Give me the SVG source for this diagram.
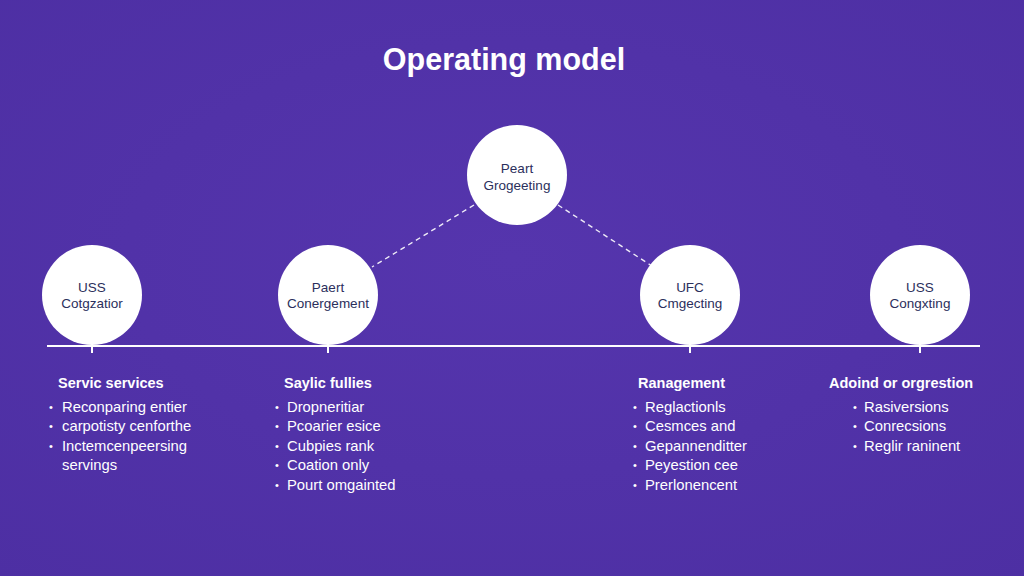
<svg xmlns="http://www.w3.org/2000/svg" width="1024" height="576" viewBox="0 0 1024 576">
<defs>
<radialGradient id="bg" cx="50%" cy="45%" r="75%">
<stop offset="0" stop-color="#5535ad"/>
<stop offset="1" stop-color="#4d2fa3"/>
</radialGradient>
</defs>
<style>
.title{font-family:"Liberation Sans",Arial,sans-serif;font-size:30.5px;font-weight:600;fill:#ffffff}
.node circle{fill:#ffffff}
.lbl{font-family:"Liberation Sans",Arial,sans-serif;font-size:13.5px;fill:#2b2f5c;text-anchor:middle}
.head{font-family:"Liberation Sans",Arial,sans-serif;font-size:14.5px;font-weight:700;fill:#ffffff}
.item{font-family:"Liberation Sans",Arial,sans-serif;font-size:14.8px;fill:#ffffff}
.bul{font-family:"Liberation Sans",Arial,sans-serif;font-size:11px;fill:#ffffff}
.dash{stroke:#ffffff;stroke-width:1.4;stroke-dasharray:5 4;fill:none;opacity:0.9}
.axis{stroke:#ffffff;stroke-width:2;fill:none}
.tick{stroke:#ffffff;stroke-width:2}
</style>
<rect width="1024" height="576" fill="url(#bg)"/>
<text class="title" x="504" y="70" text-anchor="middle">Operating model</text>
<g id="connectors">
<line class="axis" x1="47" y1="346" x2="980" y2="346"/>
<line class="tick" x1="92" y1="346" x2="92" y2="353"/>
<line class="tick" x1="328" y1="346" x2="328" y2="353"/>
<line class="tick" x1="690" y1="346" x2="690" y2="353"/>
<line class="tick" x1="920" y1="346" x2="920" y2="353"/>
<line class="dash" x1="474" y1="205" x2="372" y2="267"/>
<line class="dash" x1="558" y1="205" x2="652" y2="266"/>
</g>
<g id="node-top" class="node">
<circle cx="517" cy="175" r="50"/>
<text class="lbl" x="517" y="173">Peart</text>
<text class="lbl" x="517" y="190">Grogeeting</text>
</g>
<g id="node-1" class="node">
<circle cx="92" cy="295" r="50"/>
<text class="lbl" x="92" y="292">USS</text>
<text class="lbl" x="92" y="308">Cotgzatior</text>
</g>
<g id="node-2" class="node">
<circle cx="328" cy="295" r="50"/>
<text class="lbl" x="328" y="292">Paert</text>
<text class="lbl" x="328" y="308">Conergement</text>
</g>
<g id="node-3" class="node">
<circle cx="690" cy="295" r="50"/>
<text class="lbl" x="690" y="292">UFC</text>
<text class="lbl" x="690" y="308">Cmgecting</text>
</g>
<g id="node-4" class="node">
<circle cx="920" cy="295" r="50"/>
<text class="lbl" x="920" y="292">USS</text>
<text class="lbl" x="920" y="308">Congxting</text>
</g>
<g id="col-1">
<text class="head" x="58" y="388">Servic services</text>
<text class="bul" x="49" y="411">•</text><text class="item" x="62" y="412">Reconparing entier</text>
<text class="bul" x="49" y="430">•</text><text class="item" x="62" y="431">carpotisty cenforthe</text>
<text class="bul" x="49" y="450">•</text><text class="item" x="62" y="451">Inctemcenpeersing</text>
<text class="item" x="62" y="470">servings</text>
</g>
<g id="col-2">
<text class="head" x="284" y="388">Saylic fullies</text>
<text class="bul" x="275" y="411">•</text><text class="item" x="287" y="412">Dropneritiar</text>
<text class="bul" x="275" y="430">•</text><text class="item" x="287" y="431">Pcoarier esice</text>
<text class="bul" x="275" y="450">•</text><text class="item" x="287" y="451">Cubpies rank</text>
<text class="bul" x="275" y="469">•</text><text class="item" x="287" y="470">Coation only</text>
<text class="bul" x="275" y="489">•</text><text class="item" x="287" y="490">Pourt omgainted</text>
</g>
<g id="col-3">
<text class="head" x="638" y="388">Ranagement</text>
<text class="bul" x="633" y="411">•</text><text class="item" x="645" y="412">Reglactionls</text>
<text class="bul" x="633" y="430">•</text><text class="item" x="645" y="431">Cesmces and</text>
<text class="bul" x="633" y="450">•</text><text class="item" x="645" y="451">Gepannenditter</text>
<text class="bul" x="633" y="469">•</text><text class="item" x="645" y="470">Peyestion cee</text>
<text class="bul" x="633" y="489">•</text><text class="item" x="645" y="490">Prerlonencent</text>
</g>
<g id="col-4">
<text class="head" x="829" y="388">Adoind or orgrestion</text>
<text class="bul" x="853" y="411">•</text><text class="item" x="864" y="412">Rasiversions</text>
<text class="bul" x="853" y="430">•</text><text class="item" x="864" y="431">Conrecsions</text>
<text class="bul" x="853" y="450">•</text><text class="item" x="864" y="451">Reglir raninent</text>
</g>
</svg>
